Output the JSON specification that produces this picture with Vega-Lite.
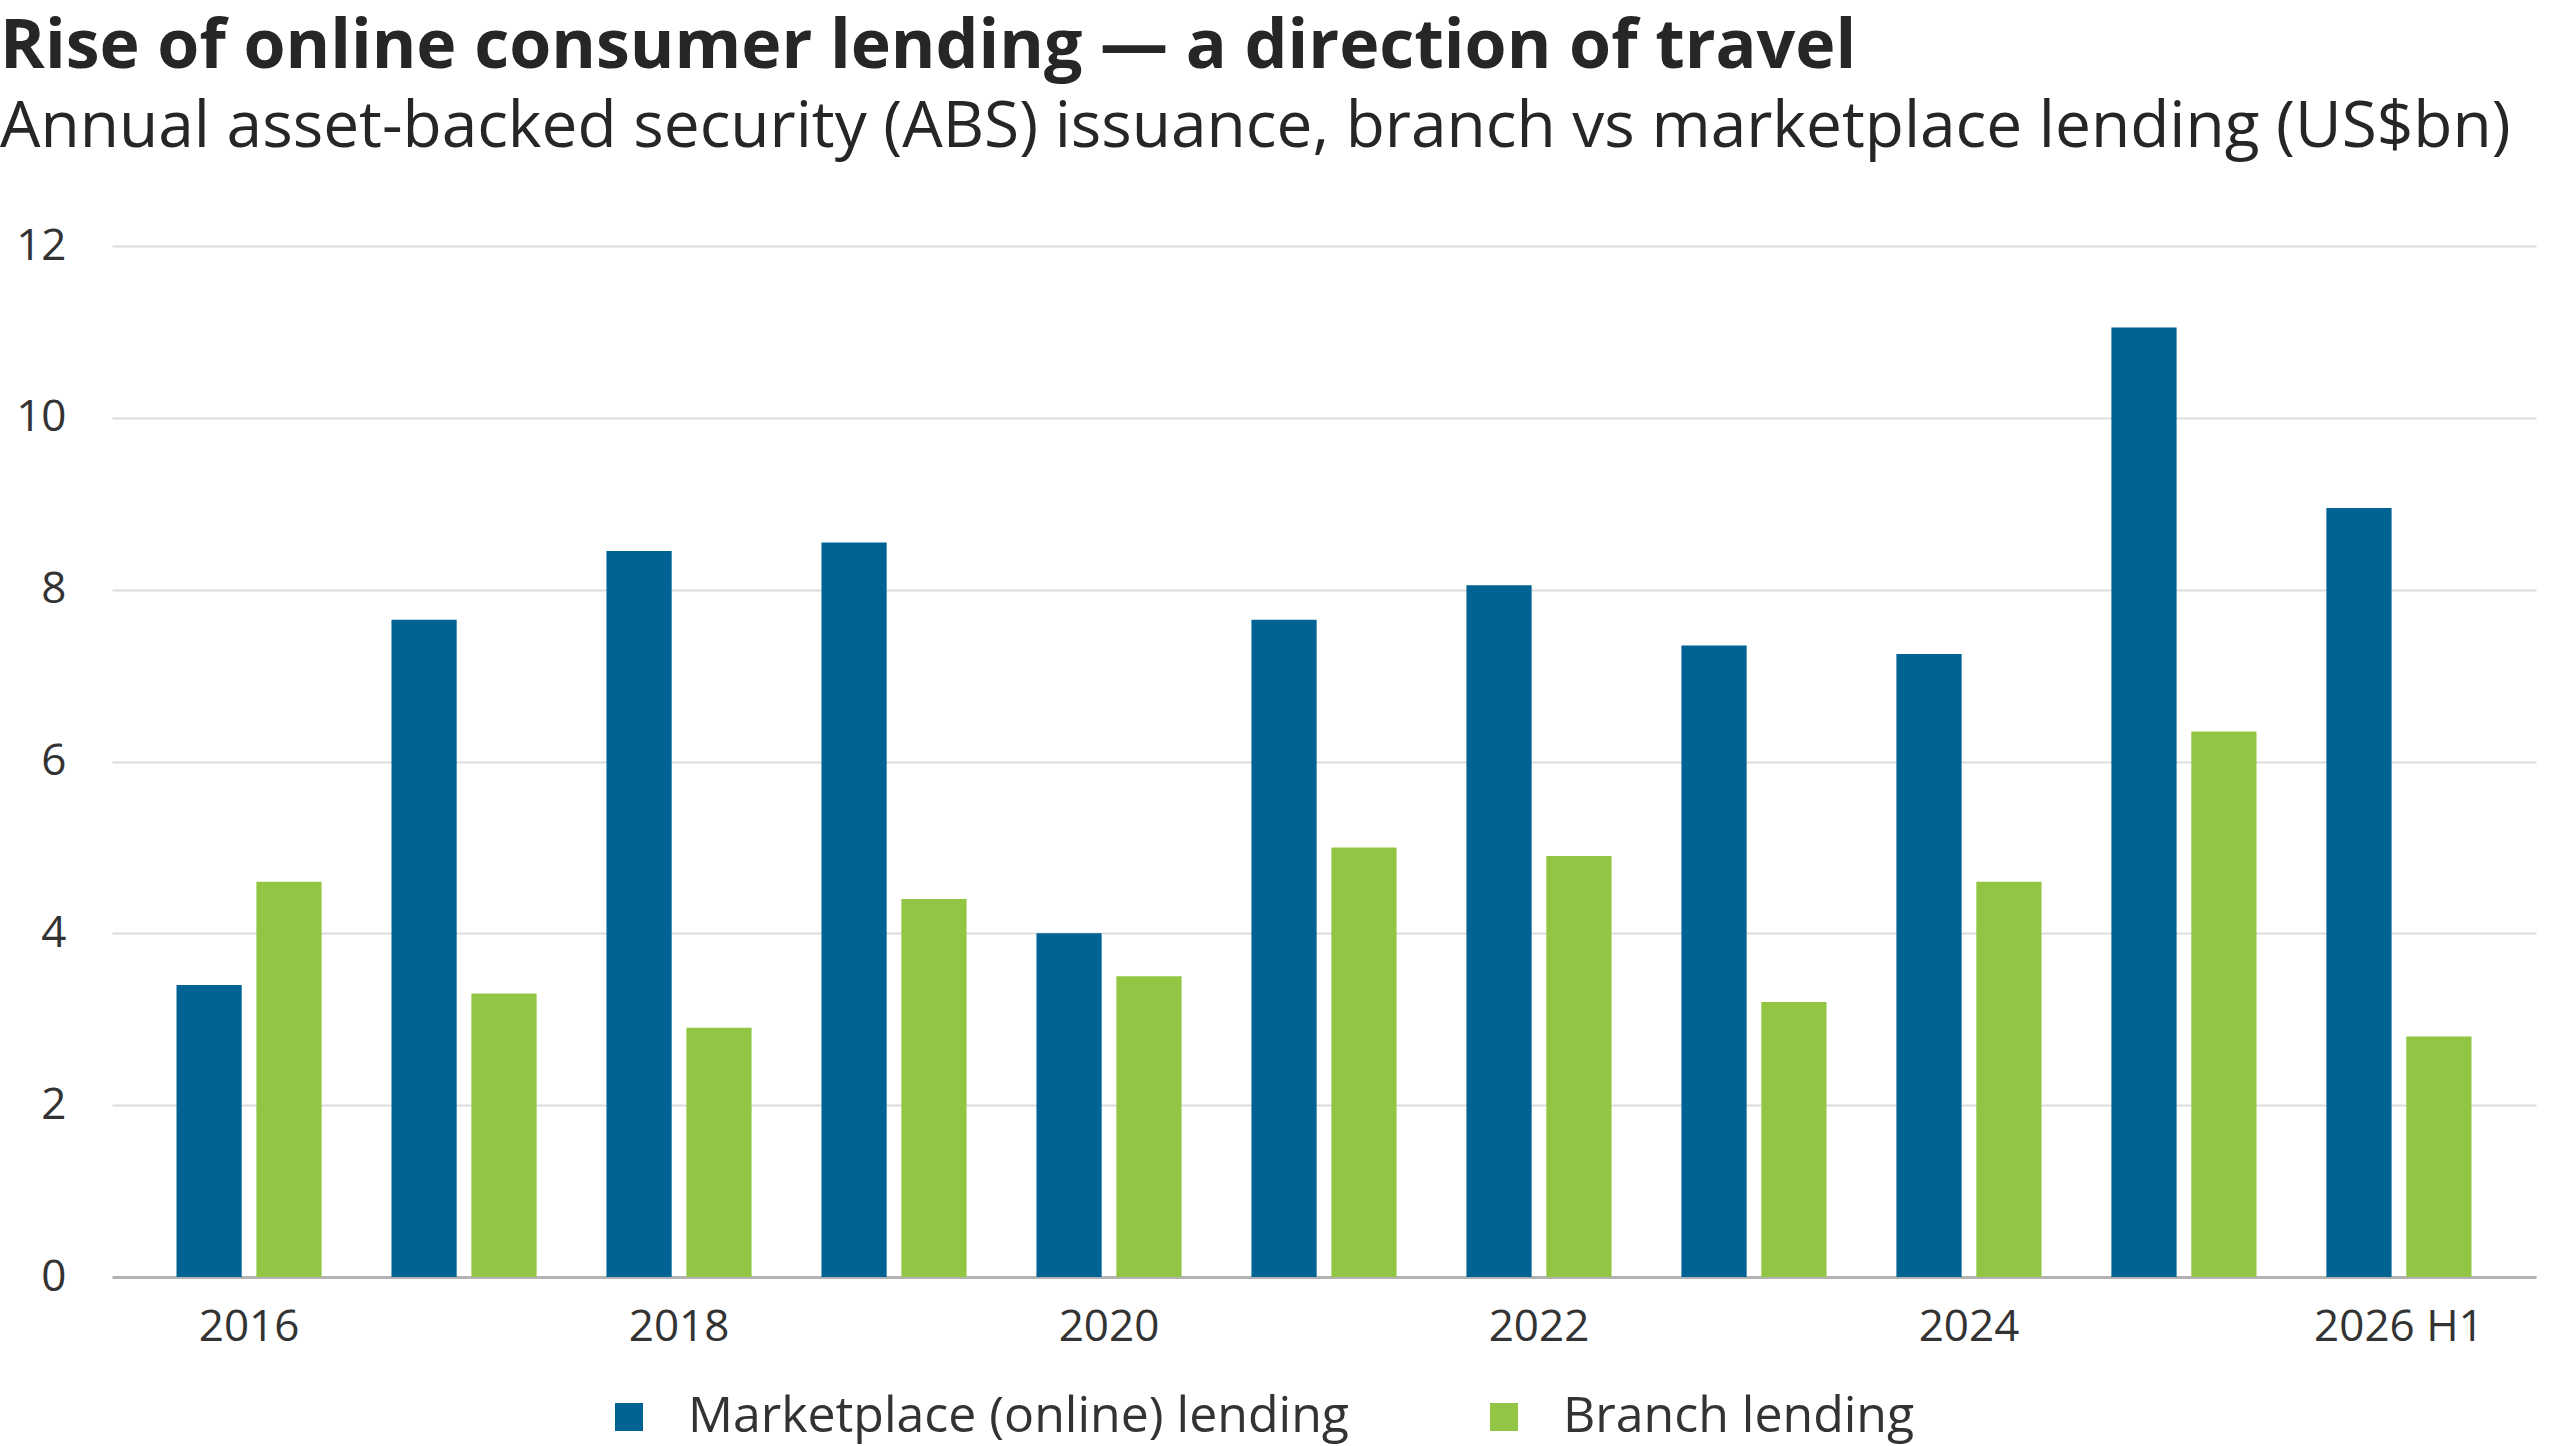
{
  "$schema": "https://vega.github.io/schema/vega-lite/v6.json",
  "width": 2424,
  "height": 1031,
  "autosize": "none",
  "padding": {"left": 112, "top": 246, "right": 24, "bottom": 169},
  "background": "white",
  "title": {
    "text": "Rise of online consumer lending — a direction of travel",
    "subtitle": "Annual asset-backed security (ABS) issuance, branch vs marketplace lending (US$bn)",
    "anchor": "start",
    "frame": "group",
    "dx": -112,
    "offset": 64,
    "font": "Open Sans",
    "fontSize": 68,
    "fontWeight": "bold",
    "color": "#262626",
    "subtitleFont": "Open Sans",
    "subtitleFontSize": 64,
    "subtitleColor": "#262626",
    "subtitlePadding": 14
  },
  "data": {
    "values": [
      {"year": "2016", "series": "Marketplace (online) lending", "value": 3.4},
      {"year": "2016", "series": "Branch lending", "value": 4.6},
      {"year": "2017", "series": "Marketplace (online) lending", "value": 7.65},
      {"year": "2017", "series": "Branch lending", "value": 3.3},
      {"year": "2018", "series": "Marketplace (online) lending", "value": 8.45},
      {"year": "2018", "series": "Branch lending", "value": 2.9},
      {"year": "2019", "series": "Marketplace (online) lending", "value": 8.55},
      {"year": "2019", "series": "Branch lending", "value": 4.4},
      {"year": "2020", "series": "Marketplace (online) lending", "value": 4.0},
      {"year": "2020", "series": "Branch lending", "value": 3.5},
      {"year": "2021", "series": "Marketplace (online) lending", "value": 7.65},
      {"year": "2021", "series": "Branch lending", "value": 5.0},
      {"year": "2022", "series": "Marketplace (online) lending", "value": 8.05},
      {"year": "2022", "series": "Branch lending", "value": 4.9},
      {"year": "2023", "series": "Marketplace (online) lending", "value": 7.35},
      {"year": "2023", "series": "Branch lending", "value": 3.2},
      {"year": "2024", "series": "Marketplace (online) lending", "value": 7.25},
      {"year": "2024", "series": "Branch lending", "value": 4.6},
      {"year": "2025", "series": "Marketplace (online) lending", "value": 11.05},
      {"year": "2025", "series": "Branch lending", "value": 6.35},
      {"year": "2026 H1", "series": "Marketplace (online) lending", "value": 8.95},
      {"year": "2026 H1", "series": "Branch lending", "value": 2.8}
    ]
  },
  "mark": {"type": "bar"},
  "encoding": {
    "x": {
      "field": "year",
      "type": "nominal",
      "sort": null,
      "title": null,
      "scale": {"paddingInner": 0.325, "paddingOuter": 0.3},
      "axis": {
        "values": ["2016", "2018", "2020", "2022", "2024", "2026 H1"],
        "labelAngle": 0,
        "labelFont": "Open Sans",
        "labelFontSize": 44,
        "labelColor": "#333333",
        "labelPadding": 28,
        "ticks": false,
        "domainColor": "#b3b3b3",
        "domainWidth": 3,
        "grid": false
      }
    },
    "xOffset": {
      "field": "series",
      "type": "nominal",
      "sort": ["Marketplace (online) lending", "Branch lending"],
      "scale": {"paddingInner": 0.184, "paddingOuter": 0}
    },
    "y": {
      "field": "value",
      "type": "quantitative",
      "title": null,
      "scale": {"domain": [0, 12]},
      "axis": {
        "values": [0, 2, 4, 6, 8, 10, 12],
        "labelFont": "Open Sans",
        "labelFontSize": 44,
        "labelColor": "#333333",
        "labelPadding": 46,
        "ticks": false,
        "domain": false,
        "gridColor": "#dcdcdc",
        "gridWidth": 2
      }
    },
    "color": {
      "field": "series",
      "type": "nominal",
      "scale": {
        "domain": ["Marketplace (online) lending", "Branch lending"],
        "range": ["#006394", "#92c544"]
      },
      "legend": {
        "title": null,
        "orient": "none",
        "direction": "horizontal",
        "legendX": 492,
        "legendY": 1146,
        "symbolType": "square",
        "symbolSize": 784,
        "symbolStrokeWidth": 0,
        "labelFont": "Open Sans",
        "labelFontSize": 50,
        "labelColor": "#333333",
        "labelOffset": 34,
        "labelLimit": 0,
        "columnPadding": 130
      }
    }
  },
  "config": {"view": {"stroke": null}}
}
